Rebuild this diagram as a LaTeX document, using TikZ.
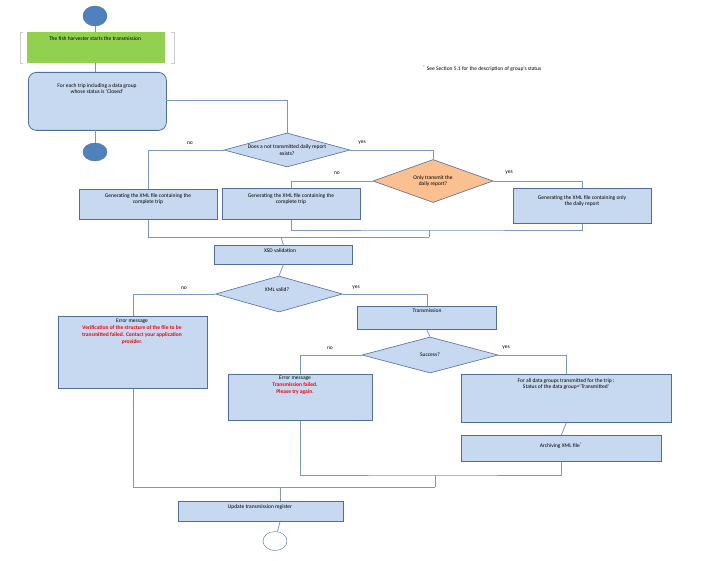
\documentclass[tikz,border=0pt]{standalone}
\usepackage{fontspec}
\setmainfont{Carlito}
\usetikzlibrary{shapes.geometric}
\definecolor{bfill}{HTML}{C6D9F1}
\definecolor{bline}{HTML}{4F6E99}
\definecolor{cline}{HTML}{7A97C2}
\definecolor{circf}{HTML}{4F81BD}
\definecolor{orf}{HTML}{FAC090}
\definecolor{grf}{HTML}{92D050}
\begin{document}
\begin{tikzpicture}[x=1pt,y=-1pt,
  every node/.style={font=\fontsize{5.5}{6.6}\selectfont, inner sep=1pt},
  box/.style={draw=bline, fill=bfill, line width=0.8pt, align=center},
  dia/.style={diamond, draw=bline, fill=bfill, line width=0.6pt, aspect=3.4, align=center, inner sep=0pt},
  con/.style={draw=cline, line width=0.8pt},
  lab/.style={font=\fontsize{5.5}{6.6}\selectfont},
  red/.style={text=red, font=\fontsize{5.5}{6.6}\selectfont\bfseries}]
\useasboundingbox (0,0) rectangle (708,561);
% shapes as rectangles by corners
\node[ellipse, draw=bline, fill=circf, minimum width=24, minimum height=20] (start) at (95,16) {};
\node[fill=grf, minimum width=138, minimum height=31, anchor=north west, inner sep=0] (green) at (27,32) {};
\node[anchor=north] at (95,35) {The fish harvester starts the transmission};
\draw[gray!40, line width=0.8pt] (23,32) -- (20,32) -- (20,63) -- (23,63);
\draw[gray!40, line width=0.8pt] (171,32) -- (174,32) -- (174,63) -- (171,63);
\node[draw=bline, fill=bfill, rounded corners=8pt, line width=0.8pt, minimum width=138, minimum height=58, anchor=north west, inner sep=0] (each) at (28,72) {};
\node[align=center, anchor=north] at (97,82) {For each trip including a data group\\whose status is `Closed'};
\node[ellipse, draw=bline, fill=circf, minimum width=24, minimum height=18] (stop1) at (95,152) {};
\node[anchor=north west, lab] (note) at (422,65) {\textsuperscript{*} See Section 5.1 for the description of group's status};

\node[dia, minimum width=126, minimum height=34] (d1) at (287,150) {Does a not transmitted daily report\\exists?};
\node[dia, fill=orf, minimum width=120, minimum height=43] (d2) at (433,181) {Only transmit the\\daily report?};
\node[box, minimum width=138, minimum height=30, anchor=north west, inner sep=0] (g1) at (79,189) {};
\node[anchor=north, align=center] at (148,192) {Generating the XML file  containing the\\complete trip};
\node[box, minimum width=138, minimum height=31, anchor=north west, inner sep=0] (g2) at (222,188) {};
\node[anchor=north, align=center] at (291,192) {Generating the XML file  containing the\\complete trip};
\node[box, minimum width=138, minimum height=35, anchor=north west, inner sep=0] (g3) at (513,188) {};
\node[anchor=north, align=center] at (582,194) {Generating the XML file containing only\\the daily report};
\node[box, minimum width=138, minimum height=19, anchor=north west, inner sep=0] (xsd) at (214,245) {};
\node[anchor=north] at (280,247) {XSD validation};
\node[dia, minimum width=127, minimum height=36] (d3) at (279,294) {};
\node at (277,290) {XML valid?};
\node[box, minimum width=149, minimum height=72, anchor=north west, inner sep=0] (e1) at (58,316) {};
\node[anchor=north, align=center] at (132,318) {Error message\\[0.5pt]\textcolor{red}{\bfseries Verification of the structure of the file to be}\\\textcolor{red}{\bfseries transmitted failed. Contact your application}\\\textcolor{red}{\bfseries provider.}};
\node[box, minimum width=139, minimum height=23, anchor=north west, inner sep=0] (tr) at (357,306) {};
\node[anchor=north] at (427,308) {Transmission};
\node[dia, minimum width=136, minimum height=36] (d4) at (430,355) {Success?};
\node[box, minimum width=144, minimum height=46, anchor=north west, inner sep=0] (e2) at (228,374) {};
\node[anchor=north, align=center] at (295,375) {Error message\\\textcolor{red}{\bfseries Transmission failed.}\\[1pt]\textcolor{red}{\bfseries Please try again.}};
\node[box, minimum width=210, minimum height=48, anchor=north west, inner sep=0] (ok) at (461,374) {};
\node[anchor=north, align=center] at (566,377) {For all data groups transmitted for the trip :\\Status of the data group=`Transmitted'};
\node[box, minimum width=200, minimum height=26, anchor=north west, inner sep=0] (arch) at (461,435) {};
\node at (561,446) {Archiving XML file\textsuperscript{*}};
\node[box, minimum width=165, minimum height=20, anchor=north west, inner sep=0] (upd) at (178,501) {};
\node[anchor=north] at (260,503) {Update transmission register};
\node[ellipse, draw=bline, fill=white, minimum width=24, minimum height=19] (stop2) at (275,541) {};

% coordinates
\coordinate (m1) at (429,230);
\coordinate (m2) at (281,237);
\coordinate (m3) at (435,475);
\coordinate (m4) at (280,487);

% connectors
\draw[con] (start) -- (95,32);
\draw[con] (95,63) -- (95,72);
\draw[con] (95,130) -- (stop1);
\draw[con] (166,100) -| (d1.north);
\draw[con] (d1.west) -| (g1.north);
\draw[con] (d1.east) -| (d2.north);
\draw[con] (d2.west) -| (g2.north);
\draw[con] (d2.east) -| (g3.north);
\draw[con] (g2.south) |- (m1) -| (g3.south);
\draw[con] (m1) -- (429,237);
\draw[con] (g1.south) |- (429,237);
\draw[con] (m2) -- (xsd.north);
\draw[con] (xsd.south) -- (d3.north);
\draw[con] (d3.west) -| (e1.north);
\draw[con] (d3.east) -| (tr.north);
\draw[con] (tr.south) -- (d4.north);
\draw[con] (d4.west) -| (e2.north);
\draw[con] (d4.east) -| (ok.north);
\draw[con] (ok.south) -- (arch.north);
\draw[con] (e2.south) |- (m3) -| (arch.south);
\draw[con] (m3) -- (435,487);
\draw[con] (e1.south) |- (435,487);
\draw[con] (m4) -- (m4 |- upd.north);
\draw[con] (m4 |- upd.south) -- (stop2);

% labels
\node[lab] at (190,143) {no};
\node[lab] at (362,143) {yes};
\node[lab] at (337,173) {no};
\node[lab] at (509,173) {yes};
\node[lab] at (184,288) {no};
\node[lab] at (356,288) {yes};
\node[lab] at (330,348) {no};
\node[lab] at (506,348) {yes};
\end{tikzpicture}
\end{document}
